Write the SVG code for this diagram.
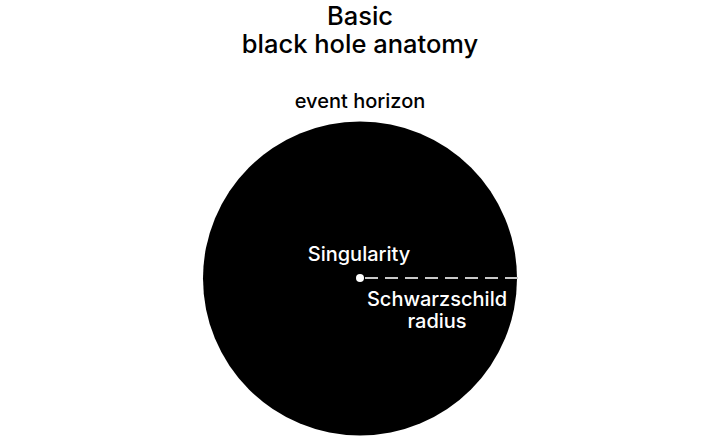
<svg xmlns="http://www.w3.org/2000/svg" width="720" height="448" viewBox="0 0 720 448">
<style>
text{font-family:Inter,"Liberation Sans",Arial,sans-serif;text-anchor:middle;font-weight:500}
.title{font-size:25.5px;fill:#000}
.lab{font-size:20px;fill:#000}
.wl{font-size:20px;fill:#fff}
</style>
<rect width="720" height="448" fill="#fff"/>
<g id="title">
<text class="title" x="360" y="25">Basic</text>
<text class="title" x="360" y="53">black hole anatomy</text>
</g>
<g id="event-horizon">
<circle cx="360" cy="278.5" r="157" fill="#000"/>
<text class="lab" x="360" y="108">event horizon</text>
</g>
<g id="connectors">
<line x1="365" y1="278" x2="518" y2="278" stroke="#c8c8c8" stroke-width="2" stroke-dasharray="13,7"/>
</g>
<g id="singularity">
<circle cx="360" cy="278" r="4" fill="#fff"/>
<text class="wl" x="359" y="261">Singularity</text>
</g>
<g id="radius-label">
<text class="wl" x="437" y="306">Schwarzschild</text>
<text class="wl" x="437" y="328">radius</text>
</g>
</svg>
